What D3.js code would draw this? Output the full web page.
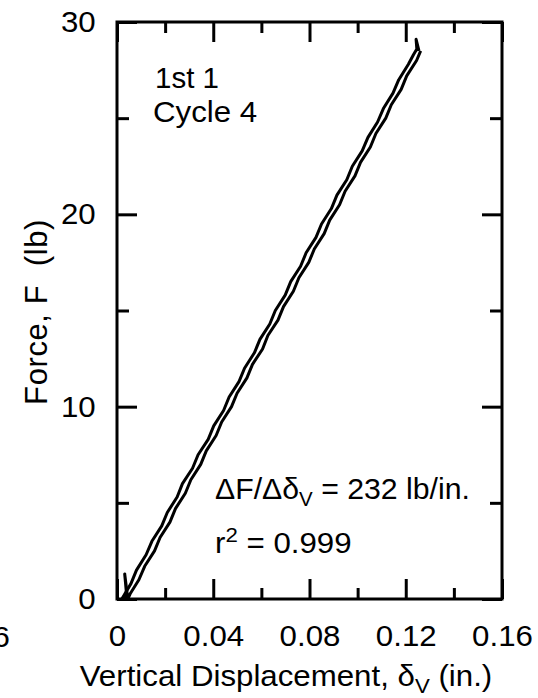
<!DOCTYPE html>
<html><head><meta charset="utf-8">
<script src="https://cdn.jsdelivr.net/npm/d3@7"></script>
<style>
html,body{margin:0;padding:0;background:#fff;}
svg text{font-family:"Liberation Sans",Arial,sans-serif;fill:#000;}
</style></head>
<body><svg id="c" width="538" height="698"></svg>
<script>
// ---- data ----
const xTicks = [0, 0.04, 0.08, 0.12, 0.16];
const xTickLabels = ["0", "0.04", "0.08", "0.12", "0.16"];
const xMinor = [0.02, 0.06, 0.10, 0.14];
const yTicks = [0, 10, 20, 30];
const yTickLabels = ["0", "10", "20", "30"];
const yMinor = [5, 15, 25];

// loading branch (upper/left curve): displacement (in.), force (lb)
const loadDisp  = [0.0020,0.0058,0.0081,0.0121,0.0145,0.0186,0.0209,0.0250,0.0272,0.0314,0.0337,0.0379,0.0402,0.0443,0.0466,0.0507,0.0530,0.0571,0.0594,0.0635,0.0658,0.0699,0.0722,0.0763,0.0786,0.0827,0.0850,0.0891,0.0914,0.0955,0.0978,0.1019,0.1043,0.1083,0.1107,0.1147,0.1171,0.1211,0.1232,0.1246,0.1243,0.1255];
const loadForce = [0.0,0.8,1.5,2.3,3.0,3.8,4.5,5.3,6.0,6.8,7.5,8.3,9.0,9.8,10.5,11.3,12.0,12.8,13.5,14.3,15.0,15.8,16.5,17.3,18.0,18.8,19.5,20.3,21.0,21.8,22.5,23.3,24.0,24.8,25.5,26.3,27.0,27.8,28.3,28.6,29.1,28.5];
// unloading branch (lower/right curve)
const unloadDisp  = [0.1262,0.1245,0.1204,0.1181,0.1140,0.1117,0.1076,0.1053,0.1012,0.0989,0.0948,0.0925,0.0884,0.0861,0.0820,0.0797,0.0756,0.0733,0.0692,0.0669,0.0627,0.0605,0.0563,0.0540,0.0499,0.0476,0.0435,0.0412,0.0371,0.0348,0.0307,0.0284,0.0243,0.0220,0.0179,0.0156,0.0115,0.0091,0.0056,0.0045,0.0032,0.0040,0.0028];
const unloadForce = [28.5,28.0,27.2,26.5,25.7,25.0,24.2,23.5,22.7,22.0,21.2,20.5,19.7,19.0,18.2,17.5,16.7,16.0,15.2,14.5,13.7,13.0,12.2,11.5,10.7,10.0,9.2,8.5,7.7,7.0,6.2,5.5,4.7,4.0,3.2,2.5,1.7,1.0,0.3,0.0,1.3,0.2,0.0];

const annot1 = "1st 1";
const annot2 = "Cycle 4";
const xTitle = "Vertical Displacement, ";
const yTitle = "Force, F\u00a0\u00a0(lb)";

// ---- layout ----
const L = 117, R = 502, T = 22, B = 599;
const svg = d3.select("#c");
const x = d3.scaleLinear().domain([0, 0.16]).range([L, R]);
const y = d3.scaleLinear().domain([0, 30]).range([B, T]);
const FS = 29.5, SX = 1.06;

function styleAxis(g){
  g.select(".domain").remove();
  g.selectAll(".tick line").attr("stroke","#000").attr("stroke-width",3);
  g.selectAll(".tick text").attr("font-size",FS).attr("font-family","Liberation Sans, Arial, sans-serif").attr("fill","#000");
}
// bottom
svg.append("g").attr("transform",`translate(0,${B})`)
  .call(d3.axisBottom(x).tickValues(xTicks).tickFormat((d,i)=>xTickLabels[i]).tickSizeInner(-20).tickSizeOuter(0).tickPadding(26))
  .call(styleAxis)
  .call(g=>g.selectAll(".tick text").attr("transform",`scale(${SX},1)`));
svg.append("g").attr("transform",`translate(0,${B})`)
  .call(d3.axisBottom(x).tickValues(xMinor).tickFormat("").tickSizeInner(-11).tickSizeOuter(0)).call(styleAxis);
// top
svg.append("g").attr("transform",`translate(0,${T})`)
  .call(d3.axisTop(x).tickValues(xTicks).tickFormat("").tickSizeInner(-20).tickSizeOuter(0)).call(styleAxis);
svg.append("g").attr("transform",`translate(0,${T})`)
  .call(d3.axisTop(x).tickValues(xMinor).tickFormat("").tickSizeInner(-11).tickSizeOuter(0)).call(styleAxis);
// left
svg.append("g").attr("transform",`translate(${L},0)`)
  .call(d3.axisLeft(y).tickValues(yTicks).tickFormat((d,i)=>yTickLabels[i]).tickSizeInner(-20).tickSizeOuter(0).tickPadding(19))
  .call(styleAxis)
  .call(g=>g.selectAll(".tick text").attr("transform",function(){return `translate(${-19*(SX-1)},0) scale(${SX},1)`;}));
svg.append("g").attr("transform",`translate(${L},0)`)
  .call(d3.axisLeft(y).tickValues(yMinor).tickFormat("").tickSizeInner(-12).tickSizeOuter(0)).call(styleAxis);
// right
svg.append("g").attr("transform",`translate(${R},0)`)
  .call(d3.axisRight(y).tickValues(yTicks).tickFormat("").tickSizeInner(-20).tickSizeOuter(0)).call(styleAxis);
svg.append("g").attr("transform",`translate(${R},0)`)
  .call(d3.axisRight(y).tickValues(yMinor).tickFormat("").tickSizeInner(-12).tickSizeOuter(0)).call(styleAxis);

// frame
svg.append("rect").attr("x",L).attr("y",T).attr("width",R-L).attr("height",B-T)
  .attr("fill","none").attr("stroke","#000").attr("stroke-width",3);

// data lines
const line = d3.line().x(d=>x(d[0])).y(d=>y(d[1]));
const loadPts = loadDisp.map((v,i)=>[v, loadForce[i]]);
const unloadPts = unloadDisp.map((v,i)=>[v, unloadForce[i]]);
[loadPts, unloadPts].forEach(p=>{
  svg.append("path").datum(p).attr("d",line).attr("fill","none")
    .attr("stroke","#000").attr("stroke-width",3).attr("stroke-linejoin","round");
});

// helper for horizontally stretched text
function htext(px, py, anchor, sx){
  return svg.append("g").attr("transform",`translate(${px},${py}) scale(${sx||SX},1)`)
    .append("text").attr("x",0).attr("y",0).attr("text-anchor",anchor||"start").attr("font-size",FS);
}

// annotations
htext(155,88,"start",1.0).text(annot1);
htext(153,122).text(annot2);

const t1 = htext(215,499,"start",1.025);
t1.append("tspan").text("\u0394F/\u0394\u03b4");
t1.append("tspan").attr("font-size",20).attr("dy",7).text("V");
t1.append("tspan").attr("dy",-7).text(" = 232 lb/in.");

const t2 = htext(215,553);
t2.append("tspan").text("r");
t2.append("tspan").attr("font-size",21).attr("dy",-11).text("2");
t2.append("tspan").attr("dy",11).text(" = 0.999");

// axis titles
const xt = htext(286,686,"middle");
xt.append("tspan").text(xTitle + "\u03b4");
xt.append("tspan").attr("font-size",21).attr("dy",7).text("V");
xt.append("tspan").attr("dy",-7).text(" (in.)");

svg.append("text").attr("transform","translate(47,312) rotate(-90)").attr("text-anchor","middle")
  .attr("font-size",31).attr("letter-spacing",0.6).text(yTitle);

// clipped neighbour label at far left
htext(10,647,"end").text("0.16");
</script></body></html>
